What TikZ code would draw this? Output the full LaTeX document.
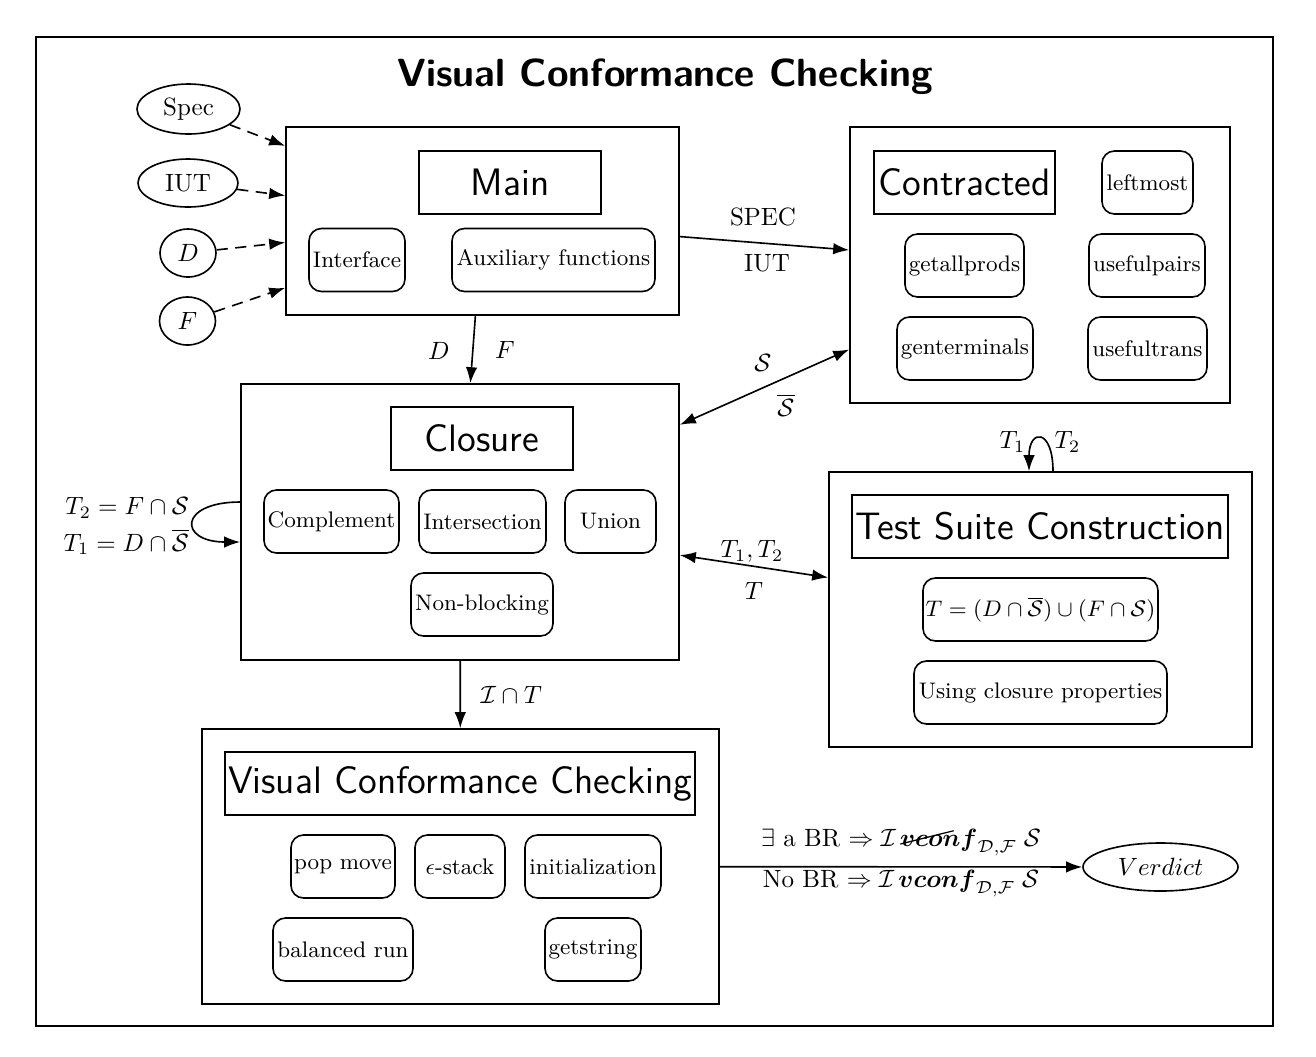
\documentclass[tikz,border=0pt]{standalone}
\usepackage{amsmath}
\usetikzlibrary{arrows.meta,shapes.geometric}
\newcommand{\nvconfsym}{\mathord{\rlap{\raisebox{0.15ex}{\rotatebox{14}{\rule{2.2em}{0.5pt}}}}\boldsymbol{vconf}}}
\begin{document}
\begin{tikzpicture}[x=0.4pt,y=-0.4pt,line width=0.65pt,
  arr/.style={-{Latex[length=6.4pt,width=4.6pt]}},
  darr/.style={{Latex[length=6.4pt,width=4.6pt]}-{Latex[length=6.4pt,width=4.6pt]}},
  dsh/.style={arr,dash pattern=on 4.5pt off 3pt},
  clus/.style={draw,rectangle,inner sep=0pt},
  labbox/.style={draw,rectangle,font=\fontsize{15.3}{18}\selectfont\sffamily,minimum height=25.2pt,inner xsep=1pt,minimum width=#1},
  sub/.style={draw,rectangle,rounded corners=5pt,font=\small,minimum height=25.2pt,inner xsep=1pt,minimum width=#1},
  oval/.style={draw,ellipse,inner sep=0pt,minimum width=#1},
  lbl/.style={inner sep=1pt}]
\useasboundingbox (0,0) rectangle (1316,1056);
\node[clus,minimum width=494.8pt,minimum height=395.6pt] (frame) at (654.5,531.5) {};
\node[font=\fontsize{15.7}{18}\selectfont\sffamily\bfseries] (title) at (665,76.5) {Visual Conformance Checking};

% inputs
\node[oval=41.2pt,minimum height=20pt] (spec) at (188.5,109) {Spec};
\node[oval=40pt,minimum height=19.2pt] (iut) at (188,183) {IUT};
\node[oval=22.4pt,minimum height=19.2pt] (d) at (188,253) {$D$};
\node[oval=22.4pt,minimum height=19.2pt] (f) at (187.5,321) {$F$};

% Main
\node[clus,minimum width=157.2pt,minimum height=75.2pt] (main) at (482.5,221) {};
\node[labbox=72.8pt] (mainl) at (510,182.5) {Main};
\node[sub=38.4pt] (interface) at (357,260) {Interface};
\node[sub=81.2pt] (aux) at (553.5,260) {Auxiliary functions};

% Contracted
\node[clus,minimum width=152pt,minimum height=110.4pt] (contr) at (1040,265) {};
\node[labbox=72.4pt] (contrl) at (964.5,182.5) {Contracted};
\node[sub=36.4pt] (leftmost) at (1147.5,182.5) {leftmost};
\node[sub=47.6pt] (getall) at (964.5,265.5) {getallprods};
\node[sub=46.4pt] (usefulp) at (1147,265.5) {usefulpairs};
\node[sub=54.4pt] (genterm) at (965,348.5) {genterminals};
\node[sub=47.6pt] (usefult) at (1147.5,348.5) {usefultrans};

% Closure
\node[clus,minimum width=175.2pt,minimum height=110.4pt] (clos) at (460,522) {};
\node[labbox=72.8pt] (closl) at (482,438.5) {Closure};
\node[sub=54pt] (compl) at (331.5,521.5) {Complement};
\node[sub=50.8pt] (inter) at (482.5,521.5) {Intersection};
\node[sub=36.4pt] (union) at (610.5,521.5) {Union};
\node[sub=56.8pt] (nonb) at (482,604.5) {Non-blocking};

% Test suite construction
\node[clus,minimum width=169.2pt,minimum height=110pt] (tsc) at (1040.5,609.5) {};
\node[labbox=150.4pt] (tscl) at (1040,526.5) {Test Suite Construction};
\node[sub=94pt] (tform) at (1040.5,609.5) {$T=(D\cap\overline{\mathcal{S}})\cup(F\cap\mathcal{S})$};
\node[sub=101.2pt] (usingc) at (1040.5,692.5) {Using closure properties};

% Visual conformance checking
\node[clus,minimum width=206.8pt,minimum height=110pt] (vcc) at (460.5,866.5) {};
\node[labbox=188pt] (vccl) at (460,783.5) {Visual Conformance Checking};
\node[sub=41.6pt] (popm) at (343,866.5) {pop move};
\node[sub=36pt] (estack) at (460,866.5) {$\epsilon$-stack};
\node[sub=54.4pt] (init) at (593,866.5) {initialization};
\node[sub=56pt] (balr) at (343,949.5) {balanced run};
\node[sub=38.4pt] (gets) at (593,949.5) {getstring};

\node[oval=62pt,minimum height=19.2pt] (verdict) at (1160.5,867) {$Verdict$};

% input edges
\draw[dsh] (spec) -- (main);
\draw[dsh] (iut) -- (main);
\draw[dsh] (d) -- (main);
\draw[dsh] (f) -- (main);

% main edges
\draw[arr] (main) -- (contr)
  node[midway,lbl,yshift=10.4pt,xshift=-0.6pt] {SPEC}
  node[midway,lbl,yshift=-8pt,xshift=1pt] {IUT};
\draw[arr] (main) -- (clos)
  node[midway,lbl,xshift=-13.6pt,yshift=-0.6pt] {$D$}
  node[midway,lbl,xshift=12.8pt] {$F$};
\draw[darr] (contr) -- (clos)
  node[midway,lbl,yshift=9.6pt,xshift=-0.6pt] {$\mathcal{S}$}
  node[midway,lbl,yshift=-7.2pt,xshift=8.6pt] {$\overline{\mathcal{S}}$};
\draw[darr] (clos) -- (tsc)
  node[midway,lbl,yshift=6pt,xshift=-0.8pt] {$T_1,T_2$}
  node[midway,lbl,yshift=-10pt] {$T$};
\draw[arr] (clos) -- (vcc)
  node[midway,lbl,xshift=20.4pt] {$\mathcal{I}\cap T$};
\draw[arr] (vcc) -- (verdict)
  node[midway,lbl,yshift=9.8pt] {$\exists$ a BR $\Rightarrow\mathcal{I}\,\nvconfsym_{\mathcal{D},\mathcal{F}}\;\mathcal{S}$}
  node[midway,lbl,yshift=-6.6pt] {No BR $\Rightarrow\mathcal{I}\,\boldsymbol{vconf}_{\mathcal{D},\mathcal{F}}\;\mathcal{S}$};

% loops
\draw[arr] ([yshift=8pt]clos.west) .. controls +(-62,0) and +(-62,0) .. ([yshift=-8pt]clos.west);
\node[lbl,anchor=east] (t2l) at ([shift={(-48,-14)}]clos.west) {$T_2=F\cap\mathcal{S}$};
\node[lbl,anchor=east] (t1l) at ([shift={(-48,20)}]clos.west) {$T_1=D\cap\overline{\mathcal{S}}$};
\draw[arr] ([xshift=5pt]tsc.north) .. controls +(0,-43) and +(0,-43) .. ([xshift=-4.6pt]tsc.north);
\node[lbl] (tt1) at ([shift={(-28,-29)}]tsc.north) {$T_1$};
\node[lbl] (tt2) at ([shift={(27,-29)}]tsc.north) {$T_2$};
\end{tikzpicture}
\end{document}
